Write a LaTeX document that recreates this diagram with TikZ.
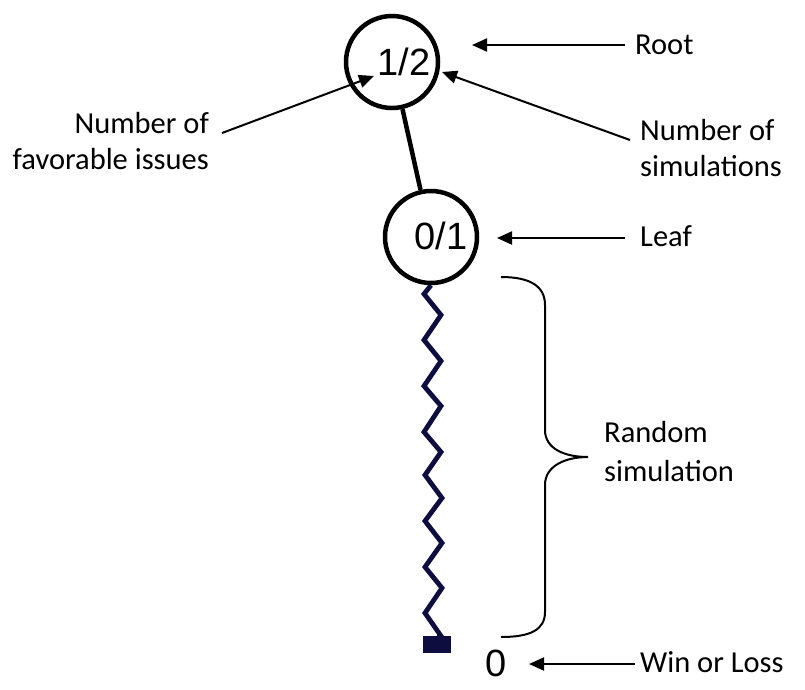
\documentclass[tikz,border=0pt]{standalone}
\usepackage{fontspec}
\setmainfont{Carlito}
\newfontfamily\numfont{Liberation Sans}
\usetikzlibrary{arrows.meta}
\definecolor{navy}{HTML}{0D0D40}
\begin{document}
\begin{tikzpicture}[x=1pt,y=-1pt,
  treenode/.style={circle,draw=black,line width=4.5pt,minimum size=92pt,inner sep=0pt},
  numtext/.style={font=\numfont\fontsize{38}{40}\selectfont,inner sep=0pt},
  lbl/.style={font=\fontsize{30.5}{36}\selectfont,inner sep=0pt,align=left},
  pointer/.style={line width=2pt,-{Triangle[length=15pt,width=13pt]}}]
\useasboundingbox (0,0) rectangle (805,689);
% tree
\node[treenode] (root) at (392,62) {};
\node[numtext] (rootnum) at (404,62) {1/2};
\node[treenode] (leaf) at (431,237) {};
\node[numtext] (leafnum) at (441,236) {0/1};
\draw[line width=4.5pt] (root) -- (leaf);
% terminal square
\node[fill=navy,minimum width=28pt,minimum height=17pt,inner sep=0pt] (term) at (437,644) {};
\draw[navy,line width=4.8pt,line join=miter]
  (leaf.south) -- (424,294) -- (441,315) -- (424,340) -- (441,361) -- (424,386)
  -- (441,406) -- (424,432) -- (441,452) -- (425,475) -- (442,498) -- (425,521)
  -- (442,543) -- (425,567) -- (442,588) -- (425,613) -- (441,636) -- (term.north);
% labels
\node[lbl,anchor=west] (rootlbl) at (635,45) {Root};
\node[lbl,anchor=west] (simlbl) at (640,148) {Number of\\simulations};
\node[lbl,anchor=east,align=right] (favlbl) at (209,141) {Number of\\favorable issues};
\node[lbl,anchor=west] (leaflbl) at (640,236) {Leaf};
\node[lbl,anchor=west,font=\fontsize{30.5}{39}\selectfont] (randlbl) at (604,452) {Random\\simulation};
\node[lbl,anchor=west] (wllbl) at (640,662) {Win or Loss};
\node[numtext] (zero) at (496,663) {0};
% pointers
\coordinate (rootA) at (625,45);  \coordinate (rootB) at (472,45);
\coordinate (simA) at (630,140);  \coordinate (simB) at (442,72);
\coordinate (favA) at (222,133);  \coordinate (favB) at (374,76);
\coordinate (leafA) at (625,238); \coordinate (leafB) at (497,238);
\coordinate (wlA) at (635,664);   \coordinate (wlB) at (529,664);
\draw[pointer] (rootA) -- (rootB);
\draw[pointer] (simA) -- (simB);
\draw[pointer] (favA) -- (favB);
\draw[pointer] (leafA) -- (leafB);
\draw[pointer] (wlA) -- (wlB);
% brace
\draw[line width=2pt] (501,277) .. controls (530,277) and (545,286) .. (545,305)
  -- (545,430) .. controls (545,449) and (565,457) .. (588,457)
  .. controls (565,457) and (545,466) .. (545,485)
  -- (545,612) .. controls (545,630) and (530,637) .. (501,637);
\end{tikzpicture}
\end{document}
